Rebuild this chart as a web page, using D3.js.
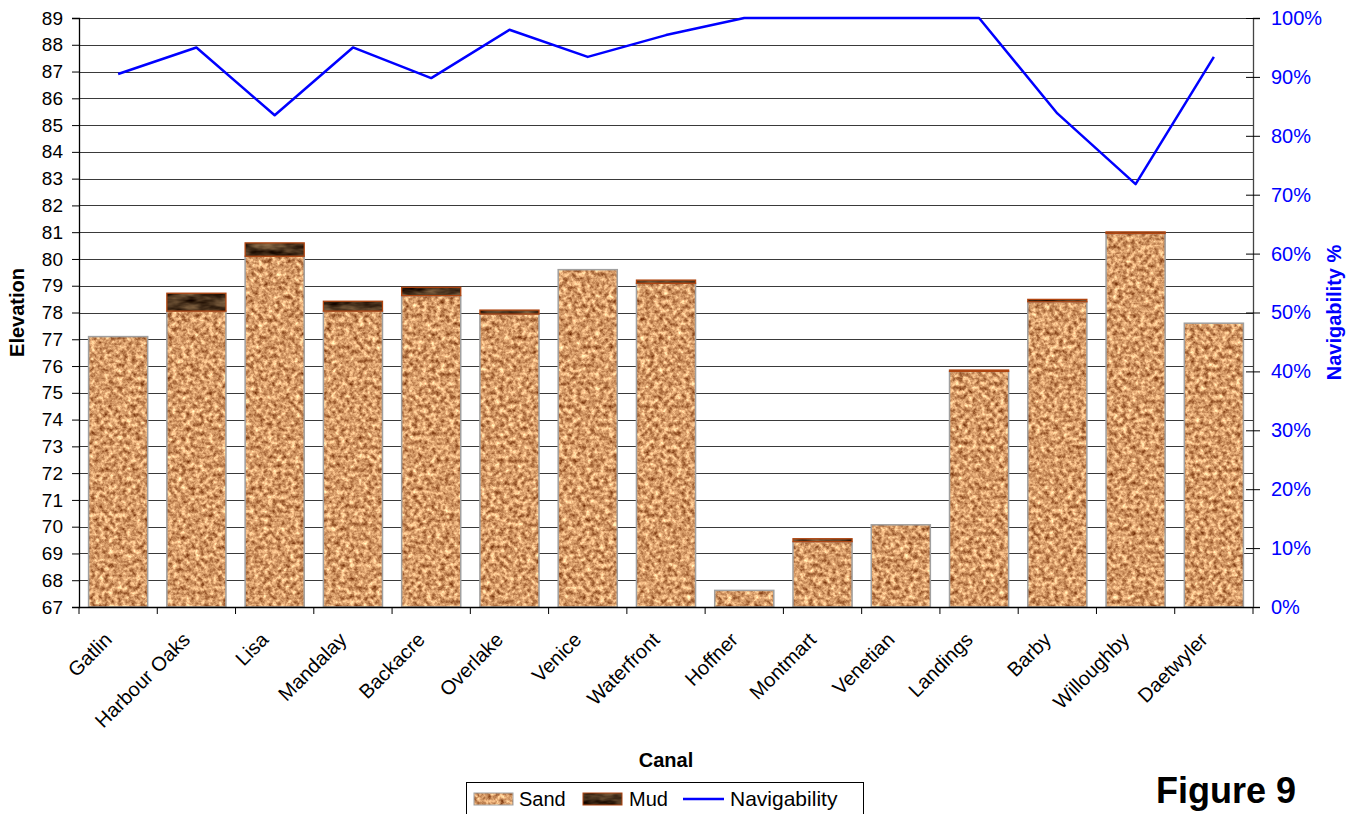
<!DOCTYPE html>
<html>
<head>
<meta charset="utf-8">
<script src="https://cdn.jsdelivr.net/npm/d3@7"></script>
<style>
  html, body { margin: 0; padding: 0; background: #fff; }
  svg { display: block; font-family: "Liberation Sans", Arial, sans-serif; }
</style>
</head>
<body>
<svg id="chart" width="1356" height="814"></svg>
<script>
// Canal survey: bed elevation split into sand and mud, plus navigability
const canals = ["Gatlin", "Harbour Oaks", "Lisa", "Mandalay", "Backacre", "Overlake", "Venice",
  "Waterfront", "Hoffner", "Montmart", "Venetian", "Landings", "Barby", "Willoughby", "Daetwyler"];
const sand = [77.1, 78.05, 80.1, 78.05, 78.63, 77.94, 79.6, 79.09, 67.62, 69.44, 70.07, 75.8, 78.4, 80.95, 77.6];
const mud = [0, 0.67, 0.5, 0.37, 0.31, 0.15, 0, 0.12, 0, 0.11, 0, 0.05, 0.09, 0.06, 0];
const navigability = [0.905, 0.95, 0.835, 0.95, 0.898, 0.98, 0.934, 0.971, 1.0, 1.0, 1.0, 1.0, 0.838, 0.718, 0.934];
const elevationTicks = d3.range(67, 90, 1);
const percentTicks = d3.range(0, 1.01, 0.1);

const svg = d3.select("#chart");
const plot = { left: 79, right: 1253, top: 18, bottom: 607 };

const x = d3.scaleBand().domain(canals).range([plot.left, plot.right])
  .paddingInner(0.245).paddingOuter(0.1225);
const y = d3.scaleLinear().domain([67, 89]).range([plot.bottom, plot.top]);
const yNav = d3.scaleLinear().domain([0, 1]).range([plot.bottom, plot.top]);

// Grain textures for the sand and mud fills
const defs = svg.append("defs");
function grain(id, freq, octaves, seed, matrix, soften) {
  const f = defs.append("filter").attr("id", id)
    .attr("x", 0).attr("y", 0).attr("width", 1).attr("height", 1)
    .attr("color-interpolation-filters", "sRGB");
  f.append("feTurbulence").attr("type", "fractalNoise")
    .attr("baseFrequency", freq).attr("numOctaves", octaves).attr("seed", seed).attr("result", "noise");
  f.append("feColorMatrix").attr("in", "noise").attr("type", "matrix").attr("values", matrix).attr("result", "col");
  f.append("feGaussianBlur").attr("in", "col").attr("stdDeviation", soften).attr("result", "soft");
  f.append("feComposite").attr("in", "soft").attr("in2", "SourceGraphic").attr("operator", "in");
}
grain("sandTex", "0.22", 3, 7,
  "0.95 0 0 0 0.36  1.05 0 0 0 0.08  0.95 0 0 0 -0.07  0 0 0 0 1", 0.5);
grain("mudTex", "0.05 0.14", 3, 11,
  "0.7 0 0 0 -0.05  0.6 0 0 0 -0.09  0.45 0 0 0 -0.1  0 0 0 0 1", 0.6);

// Horizontal gridlines
svg.append("g").selectAll("line").data(elevationTicks).join("line")
  .attr("x1", plot.left).attr("x2", plot.right)
  .attr("y1", d => Math.round(y(d)) + 0.5).attr("y2", d => Math.round(y(d)) + 0.5)
  .attr("stroke", "#3a3a3a").attr("stroke-width", 1);

// Stacked bars: sand base from the axis floor, mud layer on top
const barW = x.bandwidth();
const bars = svg.append("g");
canals.forEach((c, i) => {
  const x0 = x(c);
  const sTop = y(sand[i]);
  bars.append("rect").attr("x", x0).attr("y", sTop).attr("width", barW).attr("height", y(67) - sTop)
    .attr("fill", "#c99060").attr("filter", "url(#sandTex)");
  bars.append("rect").attr("x", x0).attr("y", sTop).attr("width", barW).attr("height", y(67) - sTop)
    .attr("fill", "none").attr("stroke", "#a0a0a0").attr("stroke-width", 1.5);
  if (mud[i] > 0) {
    const mTop = y(sand[i] + mud[i]);
    bars.append("rect").attr("x", x0).attr("y", mTop).attr("width", barW).attr("height", sTop - mTop)
      .attr("fill", "#4a3020").attr("filter", "url(#mudTex)");
    bars.append("rect").attr("x", x0).attr("y", mTop).attr("width", barW).attr("height", sTop - mTop)
      .attr("fill", "none").attr("stroke", "#b04510").attr("stroke-width", 1.3);
  }
});

// Left axis
const leftAxis = d3.axisLeft(y).tickValues(elevationTicks).tickSize(7).tickPadding(9).tickFormat(d3.format("d"));
const gl = svg.append("g").attr("transform", `translate(${plot.left},0)`).call(leftAxis);
gl.select(".domain").attr("stroke", "#000").attr("stroke-width", 1.3);
gl.selectAll(".tick line").attr("stroke", "#000");
gl.selectAll("text").attr("font-size", 19).attr("fill", "#000");

// Right axis (navigability)
const rightAxis = d3.axisRight(yNav).tickValues(percentTicks).tickSize(7).tickPadding(11).tickFormat(d3.format(".0%"));
const gr = svg.append("g").attr("transform", `translate(${plot.right},0)`).call(rightAxis);
gr.select(".domain").attr("stroke", "#444").attr("stroke-width", 1.3);
gr.selectAll(".tick line").attr("stroke", "#000").attr("x1", -7);
gr.selectAll("text").attr("font-size", 20).attr("fill", "#0000ff");

// Bottom axis with ticks on category boundaries
const gb = svg.append("g");
gb.append("line").attr("x1", plot.left).attr("x2", plot.right)
  .attr("y1", plot.bottom + 0.5).attr("y2", plot.bottom + 0.5).attr("stroke", "#000").attr("stroke-width", 1.3);
const step = x.step();
gb.selectAll("line.tk").data(d3.range(canals.length + 1)).join("line").attr("class", "tk")
  .attr("x1", i => plot.left + i * step).attr("x2", i => plot.left + i * step)
  .attr("y1", plot.bottom).attr("y2", plot.bottom + 7).attr("stroke", "#000");
gb.selectAll("text").data(canals).join("text")
  .attr("transform", d => `translate(${x(d) + barW / 2 - 5},${plot.bottom + 34}) rotate(-45)`)
  .attr("text-anchor", "end").attr("font-size", 20).attr("fill", "#000")
  .text(d => d);

// Navigability line
svg.append("path").datum(navigability)
  .attr("d", d3.line().x((d, i) => x(canals[i]) + barW / 2).y(d => yNav(d)))
  .attr("fill", "none").attr("stroke", "#0000ff").attr("stroke-width", 2.5).attr("stroke-linejoin", "round");

// Axis titles
svg.append("text").attr("transform", `translate(24,${(plot.top + plot.bottom) / 2}) rotate(-90)`)
  .attr("text-anchor", "middle").attr("font-size", 20).attr("font-weight", "bold").text("Elevation");
svg.append("text").attr("transform", `translate(1341,${(plot.top + plot.bottom) / 2}) rotate(-90)`)
  .attr("text-anchor", "middle").attr("font-size", 20).attr("font-weight", "bold").attr("fill", "#0000ff")
  .text("Navigability %");
svg.append("text").attr("x", 666).attr("y", 767).attr("text-anchor", "middle")
  .attr("font-size", 20).attr("font-weight", "bold").text("Canal");
svg.append("text").attr("x", 1226).attr("y", 803).attr("text-anchor", "middle")
  .attr("font-size", 36).attr("font-weight", "bold").text("Figure 9");

// Legend
const lg = svg.append("g");
lg.append("rect").attr("x", 466.5).attr("y", 782.5).attr("width", 397).attr("height", 40)
  .attr("fill", "#fff").attr("stroke", "#000").attr("stroke-width", 1);
lg.append("rect").attr("x", 474).attr("y", 793).attr("width", 39).attr("height", 12)
  .attr("fill", "#c99060").attr("filter", "url(#sandTex)");
lg.append("rect").attr("x", 474).attr("y", 793).attr("width", 39).attr("height", 12)
  .attr("fill", "none").attr("stroke", "#a0a0a0");
lg.append("text").attr("x", 519).attr("y", 806).attr("font-size", 20).text("Sand");
lg.append("rect").attr("x", 583).attr("y", 793).attr("width", 39).attr("height", 12)
  .attr("fill", "#4a3020").attr("filter", "url(#mudTex)");
lg.append("rect").attr("x", 583).attr("y", 793).attr("width", 39).attr("height", 12)
  .attr("fill", "none").attr("stroke", "#b04510");
lg.append("text").attr("x", 629).attr("y", 806).attr("font-size", 20).text("Mud");
lg.append("line").attr("x1", 683).attr("x2", 724).attr("y1", 799).attr("y2", 799)
  .attr("stroke", "#0000ff").attr("stroke-width", 2.5);
lg.append("text").attr("x", 730).attr("y", 806).attr("font-size", 21).text("Navigability");
</script>
</body>
</html>
